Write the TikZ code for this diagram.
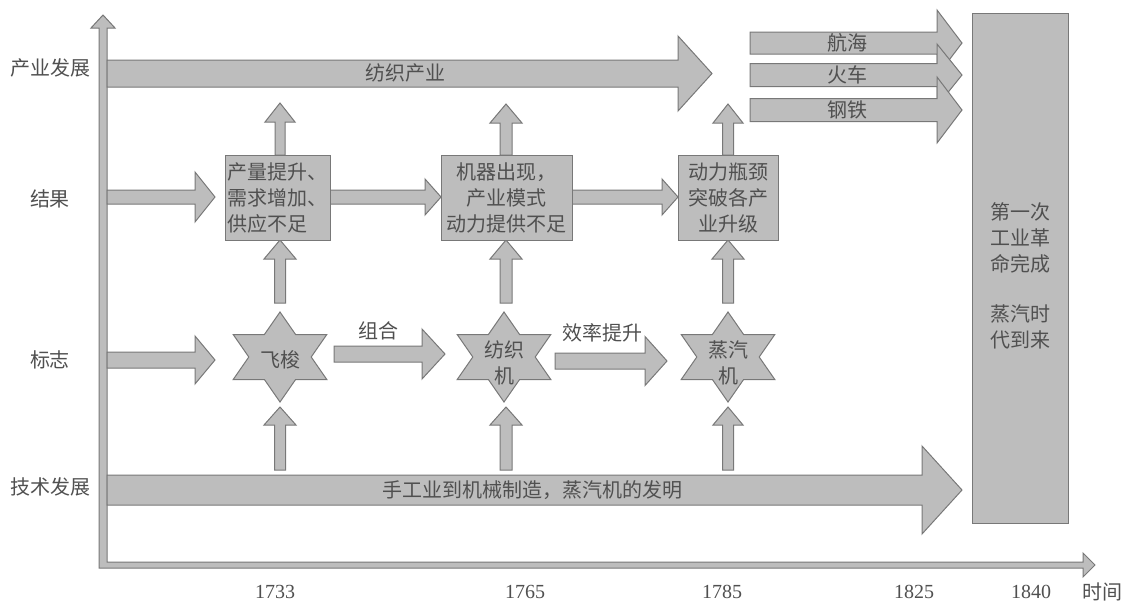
\documentclass[tikz,border=0pt]{standalone}
\usepackage{fontspec}
\setmainfont{Noto Sans CJK SC}
\newfontfamily\yearfont{Liberation Serif}
\definecolor{fillc}{HTML}{BDBDBD}
\definecolor{linec}{HTML}{787878}
\definecolor{textc}{HTML}{505050}
% horizontal block arrow: x-start, x-tip, y-centre, shaft half, head half, head length
\newcommand{\hArrow}[6]{%
  \draw[blk] (#1,#3-#4) -- (#2-#6,#3-#4) -- (#2-#6,#3-#5) -- (#2,#3) -- (#2-#6,#3+#5) -- (#2-#6,#3+#4) -- (#1,#3+#4) -- cycle;}
% vertical block arrow (upwards): x-centre, y-bottom, y-tip, shaft half, head half, head length
\newcommand{\vArrow}[6]{%
  \draw[blk] (#1-#4,#2) -- (#1-#4,#3+#6) -- (#1-#5,#3+#6) -- (#1,#3) -- (#1+#5,#3+#6) -- (#1+#4,#3+#6) -- (#1+#4,#2) -- cycle;}
% six-pointed star
\newcommand{\hexStar}[2]{%
  \draw[blk,shift={(#1,#2)}] (0,-45) -- (15.6,-22.5) -- (46.8,-22.5) -- (31.2,0) -- (46.8,22.5) -- (15.6,22.5) -- (0,45) -- (-15.6,22.5) -- (-46.8,22.5) -- (-31.2,0) -- (-46.8,-22.5) -- (-15.6,-22.5) -- cycle;}
\begin{document}
\begin{tikzpicture}[x=1pt,y=-1pt,
  blk/.style={fill=fillc,draw=linec,line width=1pt},
  txt/.style={text=textc,font=\fontsize{20}{26}\selectfont,inner sep=0pt,align=center},
  boxn/.style={blk,txt,minimum width=#1,minimum height=85pt},
  yr/.style={text=textc,font=\yearfont\fontsize{20}{24}\selectfont,inner sep=0pt}]
\useasboundingbox (0,0) rectangle (1125,603);

% axes
\draw[blk] (99,568) -- (99,28) -- (91,28) -- (103,15) -- (115,28) -- (107,28) -- (107,562)
  -- (1083,562) -- (1083,553) -- (1095,565) -- (1083,577) -- (1083,568) -- cycle;

% row labels
\node[txt] (l1) at (50,68) {产业发展};
\node[txt] (l2) at (50,199) {结果};
\node[txt] (l3) at (50,360) {标志};
\node[txt] (l4) at (50,487) {技术发展};

% industry arrow
\hArrow{107}{712}{73.5}{13.5}{37.5}{34}
\node[txt] (t1) at (405,73) {纺织产业};

% right arrows
\hArrow{750}{962}{43}{11}{33}{25}
\hArrow{750}{962}{75}{11.5}{31}{25}
\hArrow{750}{962}{110}{11.5}{33}{25}
\node[txt] (r1) at (847,43) {航海};
\node[txt] (r2) at (847,75) {火车};
\node[txt] (r3) at (847,110) {钢铁};

% result row arrows
\hArrow{107}{215}{197}{7}{25}{20}
\hArrow{330}{441}{197}{7}{18}{16}
\hArrow{572}{678}{197}{7}{18}{16}

% up arrows from boxes to industry
\vArrow{280}{155}{103}{5}{15}{19}
\vArrow{506}{155}{104}{6}{16}{19}
\vArrow{728}{155}{104}{5.5}{15}{19}

% up arrows from stars to boxes
\vArrow{280}{303}{240}{5.5}{16}{19}
\vArrow{506}{303}{240}{6}{16}{19}
\vArrow{728}{303}{240}{5.5}{16}{19}

% boxes
\node[boxn=105pt,align=left] (b1) at (277.5,197.5) {产量提升、\\需求增加、\\供应不足};
\node[boxn=131pt] (b2) at (506.5,197.5) {机器出现，\\产业模式\\动力提供不足};
\node[boxn=100pt] (b3) at (728,197.5) {动力瓶颈\\突破各产\\业升级};

% sign row
\hArrow{107}{215}{360}{8}{24}{20}
\hArrow{334}{445}{354}{8}{25}{23}
\hArrow{555}{667}{361}{8}{24.5}{22}
\node[txt] (c1) at (378,331) {组合};
\node[txt] (c2) at (602,333) {效率提升};

% stars
\hexStar{280}{357}
\hexStar{504}{357}
\hexStar{728}{357}
\node[txt] (s1) at (280,360) {飞梭};
\node[txt] (s2) at (504,363) {纺织\\机};
\node[txt] (s3) at (728,363) {蒸汽\\机};

% up arrows from technology bar to stars
\vArrow{280}{470}{407}{5.5}{16}{18}
\vArrow{506}{470}{407}{6}{16}{18}
\vArrow{728}{470}{407}{5.5}{15}{18}

% technology bar
\hArrow{107}{962}{490}{15}{44}{40}
\node[txt] (t2) at (532,490) {手工业到机械制造，蒸汽机的发明};

% final box
\node[blk,minimum width=96pt,minimum height=510pt] (big) at (1020,268) {};
\node[txt] (bt1) at (1020,238) {第一次\\工业革\\命完成};
\node[txt] (bt2) at (1020,327) {蒸汽时\\代到来};

% years
\node[yr] (y1) at (275,592) {1733};
\node[yr] (y2) at (525,592) {1765};
\node[yr] (y3) at (722,592) {1785};
\node[yr] (y4) at (914,592) {1825};
\node[yr] (y5) at (1031,592) {1840};
\node[txt] (y6) at (1102,592) {时间};
\end{tikzpicture}
\end{document}
